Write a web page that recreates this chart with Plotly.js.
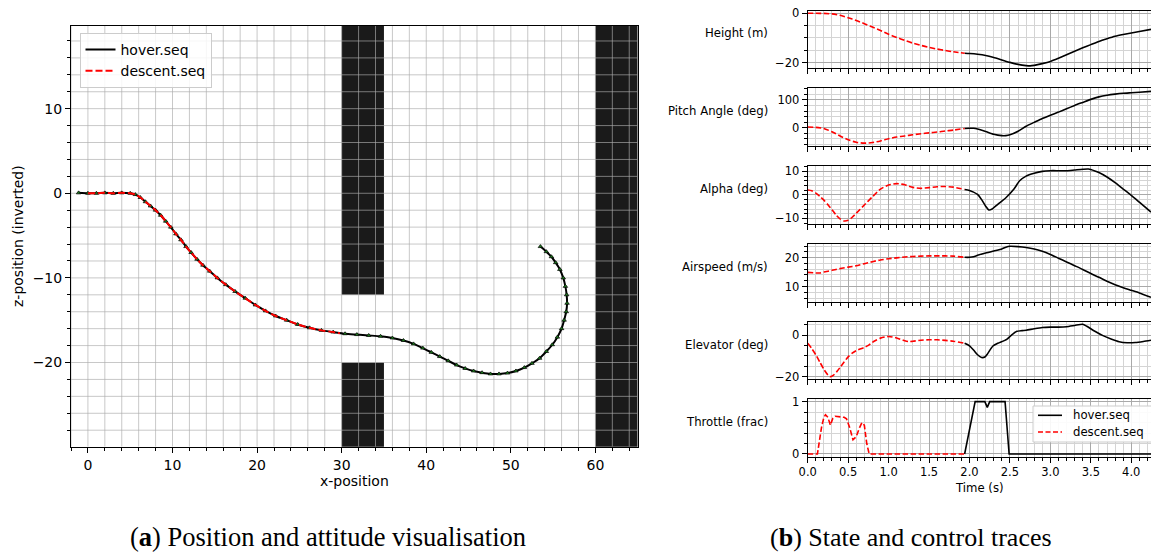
<!DOCTYPE html>
<html><head><meta charset="utf-8">
<script src="https://cdn.plot.ly/plotly-3.0.1.min.js"></script>
<style>html,body{margin:0;padding:0;background:#fff;} #chart{width:1151px;height:552px;}</style>
</head><body><div id="chart"></div>
<script>
// ---------- (a) trajectory ----------
const hoverX = [-1.1, 0, 1, 2, 3, 4, 5, 5.6, 6.2, 6.8, 7.4, 8.0, 8.6, 9.2, 9.8, 10.4, 11.0, 11.6, 12.2, 12.9, 13.6, 14.4, 15.3, 16.3, 17.4, 18.6, 19.8, 21.0, 22.2, 23.5, 24.8, 26.2, 27.6, 29.0, 30.4, 31.8, 33.2, 34.6, 36.0, 37.3, 38.5, 39.6, 40.6, 41.6, 42.6, 43.6, 44.6, 45.6, 46.6, 47.6, 48.6, 49.6, 50.6, 51.6, 52.5, 53.4, 54.2, 54.9, 55.5, 56.0, 56.3, 56.55, 56.65, 56.6, 56.45, 56.2, 55.8, 55.3, 54.8, 54.2, 53.5];
const hoverZ = [0.05, 0, 0, 0.05, 0, 0.05, 0, -0.15, -0.5, -1.0, -1.5, -2.0, -2.6, -3.3, -4.0, -4.8, -5.5, -6.3, -7.0, -7.8, -8.5, -9.2, -10.0, -10.8, -11.6, -12.4, -13.2, -13.9, -14.5, -15.0, -15.5, -15.9, -16.2, -16.4, -16.6, -16.7, -16.8, -16.9, -17.1, -17.4, -17.8, -18.3, -18.8, -19.3, -19.8, -20.3, -20.7, -21.0, -21.2, -21.35, -21.35, -21.25, -21.0, -20.6, -20.1, -19.5, -18.7, -17.9, -17.0, -16.0, -15.0, -14.0, -13.0, -12.0, -11.0, -10.0, -9.0, -8.2, -7.5, -6.9, -6.3];
const descentX = [0, 1, 2, 3, 4, 5, 5.6, 6.2, 6.8, 7.4, 8.0, 8.6, 9.2, 9.8, 10.4, 11.0, 11.6, 12.2, 12.9, 13.6, 14.4, 15.3, 16.3, 17.4, 18.6, 19.8, 21.0, 22.2, 23.5, 24.8, 26.2, 27.6, 29.0, 29.8];
const descentZ = [0, 0, 0.05, 0, 0.05, 0, -0.15, -0.5, -1.0, -1.5, -2.0, -2.6, -3.3, -4.0, -4.8, -5.5, -6.3, -7.0, -7.8, -8.5, -9.2, -10.0, -10.8, -11.6, -12.4, -13.2, -13.9, -14.5, -15.0, -15.5, -15.9, -16.2, -16.4, -16.55];
const obstacleX0 = [30, 30, 60];
const obstacleX1 = [35, 35, 65];
const obstacleZ0 = [-12, -30, -30];
const obstacleZ1 = [20, -20, 20];

// ---------- (b) state and control traces ----------
const panelLabels = ["Height (m)", "Pitch Angle (deg)", "Alpha (deg)", "Airspeed (m/s)", "Elevator (deg)", "Throttle (frac)"];

const heightDescT = [0, 0.1, 0.2, 0.3, 0.4, 0.5, 0.6, 0.7, 0.8, 0.9, 1.0, 1.1, 1.2, 1.3, 1.4, 1.5, 1.6, 1.7, 1.8, 1.94];
const heightDesc  = [0, 0, -0.05, -0.25, -0.8, -1.8, -2.9, -4.2, -5.6, -7.0, -8.5, -9.8, -11.0, -12.1, -13.0, -13.8, -14.5, -15.1, -15.6, -16.2];
const heightHovT  = [1.94, 2.0, 2.1, 2.2, 2.3, 2.4, 2.5, 2.6, 2.7, 2.75, 2.8, 2.9, 3.0, 3.1, 3.2, 3.3, 3.4, 3.5, 3.6, 3.7, 3.8, 3.9, 4.0, 4.1, 4.244];
const heightHov   = [-16.2, -16.3, -16.6, -17.1, -17.9, -18.9, -19.9, -20.7, -21.2, -21.3, -21.1, -20.4, -19.5, -18.2, -16.8, -15.4, -14.0, -12.7, -11.4, -10.3, -9.3, -8.6, -8.0, -7.4, -6.5];

const pitchDescT = [0, 0.1, 0.2, 0.3, 0.4, 0.5, 0.6, 0.7, 0.8, 0.9, 1.0, 1.1, 1.2, 1.3, 1.4, 1.5, 1.6, 1.7, 1.8, 1.94];
const pitchDesc  = [2, 1, -3, -15, -30, -44, -53, -56, -54, -48, -40, -34, -30, -26, -22, -19, -16, -12, -9, -3];
const pitchHovT  = [1.94, 2.0, 2.05, 2.1, 2.2, 2.3, 2.4, 2.45, 2.5, 2.6, 2.7, 2.8, 2.9, 3.0, 3.1, 3.2, 3.3, 3.4, 3.5, 3.6, 3.7, 3.8, 3.9, 4.0, 4.1, 4.244];
const pitchHov   = [-3, -2, -2.5, -5, -14, -24, -29, -29, -26, -13, 5, 19, 33, 45, 56, 68, 80, 91, 102, 111, 117, 121, 124, 126, 128, 131];

const alphaDescT = [0, 0.05, 0.1, 0.15, 0.2, 0.25, 0.3, 0.35, 0.4, 0.45, 0.5, 0.55, 0.6, 0.7, 0.8, 0.9, 1.0, 1.1, 1.2, 1.3, 1.4, 1.5, 1.6, 1.7, 1.8, 1.94];
const alphaDesc  = [2.1, 1.8, 0.8, -0.6, -2.2, -4.2, -6.3, -8.5, -10.2, -11.1, -10.8, -9.5, -7.8, -4.3, -0.8, 2.5, 4.2, 4.8, 4.3, 3.2, 2.8, 3.1, 3.5, 3.6, 3.3, 2.3];
const alphaHovT  = [1.94, 2.0, 2.05, 2.1, 2.15, 2.2, 2.24, 2.28, 2.35, 2.45, 2.55, 2.62, 2.7, 2.8, 2.9, 3.0, 3.1, 3.2, 3.3, 3.4, 3.47, 3.55, 3.6, 3.7, 3.8, 3.9, 4.0, 4.1, 4.244];
const alphaHov   = [2.3, 1.9, 1.2, 0.2, -2.0, -4.8, -6.4, -6.0, -4.0, -1.2, 2.5, 6.0, 8.0, 9.2, 10.0, 10.3, 10.3, 10.3, 10.6, 10.9, 11.0, 10.2, 9.5, 7.6, 5.2, 2.5, -0.2, -3.1, -7.3];

const airDescT = [0, 0.1, 0.15, 0.2, 0.3, 0.4, 0.5, 0.6, 0.7, 0.8, 0.9, 1.0, 1.1, 1.2, 1.3, 1.4, 1.5, 1.6, 1.7, 1.8, 1.94];
const airDesc  = [14.9, 14.7, 14.7, 15.0, 15.6, 16.2, 16.7, 17.2, 17.9, 18.6, 19.2, 19.6, 19.9, 20.2, 20.4, 20.5, 20.6, 20.6, 20.6, 20.5, 20.1];
const airHovT  = [1.94, 2.0, 2.05, 2.1, 2.2, 2.3, 2.4, 2.45, 2.5, 2.6, 2.7, 2.8, 2.9, 3.0, 3.1, 3.2, 3.3, 3.4, 3.5, 3.6, 3.7, 3.8, 3.9, 4.0, 4.1, 4.244];
const airHov   = [20.1, 20.1, 20.3, 20.8, 21.6, 22.3, 23.0, 23.6, 23.9, 23.8, 23.5, 23.0, 22.2, 21.1, 19.8, 18.5, 17.2, 15.9, 14.5, 13.2, 11.8, 10.6, 9.6, 8.7, 7.8, 6.3];

const elevDescT = [0, 0.05, 0.1, 0.15, 0.2, 0.25, 0.28, 0.32, 0.36, 0.4, 0.45, 0.5, 0.55, 0.6, 0.7, 0.75, 0.8, 0.85, 0.9, 1.0, 1.1, 1.2, 1.25, 1.3, 1.4, 1.5, 1.6, 1.7, 1.8, 1.94];
const elevDesc  = [-4, -6.5, -9.5, -13, -16.5, -19.2, -20, -19.3, -17.6, -15.6, -13, -10.5, -8.7, -7.5, -6, -5.0, -3.5, -2.4, -1.5, -0.7, -1.4, -2.8, -3.2, -3.0, -2.5, -2.3, -2.3, -2.6, -3.0, -4.0];
const elevHovT  = [1.94, 2.0, 2.05, 2.1, 2.15, 2.19, 2.22, 2.29, 2.35, 2.46, 2.52, 2.58, 2.65, 2.7, 2.8, 2.9, 3.0, 3.1, 3.2, 3.3, 3.4, 3.45, 3.55, 3.65, 3.75, 3.85, 3.95, 4.05, 4.15, 4.244];
const elevHov   = [-4, -5.2, -7.2, -9.5, -10.8, -10.6, -9.2, -5.3, -4.0, -2.1, 0, 1.7, 2.1, 2.3, 3.0, 3.6, 3.8, 3.8, 4.0, 4.6, 5.2, 4.2, 1.8, -0.3, -1.9, -3.2, -3.7, -3.6, -3.1, -2.5];

const thrDescT = [0, 0.12, 0.17, 0.2, 0.22, 0.25, 0.28, 0.31, 0.34, 0.4, 0.45, 0.48, 0.52, 0.56, 0.6, 0.64, 0.67, 0.7, 0.73, 0.76, 1.94];
const thrDesc  = [0, 0, 0.5, 0.7, 0.75, 0.7, 0.55, 0.68, 0.72, 0.71, 0.7, 0.67, 0.5, 0.27, 0.33, 0.5, 0.6, 0.55, 0.2, 0, 0];
const thrHovT  = [1.94, 1.96, 2.0, 2.07, 2.19, 2.22, 2.25, 2.44, 2.49, 4.244];
const thrHov   = [0, 0.15, 0.5, 1, 1, 0.89, 1, 1, 0, 0];

const panelRanges = [[-22.3, 1.05], [-66, 142], [-12.2, 12.3], [4.8, 24.7], [-21.3, 6.4], [-0.05, 1.05]];
const panelDticks = [20, 100, 10, 10, 20, 1];
const panelMinor  = [5, 20, 2, 2, 5, 0.2];

const seriesHover = [[heightHovT, heightHov], [pitchHovT, pitchHov], [alphaHovT, alphaHov], [airHovT, airHov], [elevHovT, elevHov], [thrHovT, thrHov]];
const seriesDesc  = [[heightDescT, heightDesc], [pitchDescT, pitchDesc], [alphaDescT, alphaDesc], [airDescT, airDesc], [elevDescT, elevDesc], [thrDescT, thrDesc]];
const seriesNames = ['hover.seq', 'descent.seq'];

// ---------- build ----------
const W = 1151, H = 552;
const FONT = "DejaVu Sans";
const traces = [];

const leftDomX = [71 / W, 637.7 / W], leftDomY = [1 - 446.7 / H, 1 - 26 / H];
const leftRangeX = [-2, 65], leftRangeY = [-29.95, 19.77];
const leftGridStep = 2;
const leftGrid = 'rgba(172,172,172,0.66)';

// obstacles
const obsX = [], obsY = [];
for (let k = 0; k < obstacleX0.length; k++) {
  obsX.push(obstacleX0[k], obstacleX1[k], obstacleX1[k], obstacleX0[k], obstacleX0[k], null);
  obsY.push(obstacleZ0[k], obstacleZ0[k], obstacleZ1[k], obstacleZ1[k], obstacleZ0[k], null);
}
traces.push({x: obsX, y: obsY, xaxis: 'x', yaxis: 'y', mode: 'lines', fill: 'toself', fillcolor: '#1a1a1a',
  line: {width: 0, color: '#1a1a1a'}, showlegend: false, hoverinfo: 'skip'});

// grid of the left axes, drawn above the obstacles (as in the original figure)
const gx = [], gy = [];
for (let v = Math.ceil(leftRangeX[0] / leftGridStep) * leftGridStep; v <= leftRangeX[1]; v += leftGridStep) {
  gx.push(v, v, null); gy.push(leftRangeY[0], leftRangeY[1], null);
}
for (let v = Math.ceil(leftRangeY[0] / leftGridStep) * leftGridStep; v <= leftRangeY[1]; v += leftGridStep) {
  gx.push(leftRangeX[0], leftRangeX[1], null); gy.push(v, v, null);
}
traces.push({x: gx, y: gy, xaxis: 'x', yaxis: 'y', mode: 'lines', line: {color: leftGrid, width: 1},
  showlegend: false, hoverinfo: 'skip', connectgaps: false});

// trajectory
traces.push({x: hoverX, y: hoverZ, xaxis: 'x', yaxis: 'y', mode: 'lines', name: seriesNames[0],
  line: {color: '#000', width: 2, shape: 'spline', smoothing: 0.6}, legend: 'legend', showlegend: true});
traces.push({x: hoverX, y: hoverZ, xaxis: 'x', yaxis: 'y', mode: 'markers', showlegend: false,
  marker: {symbol: 'triangle-up', size: 4, color: '#1f7a1f', line: {color: '#000', width: 0.7}}});
traces.push({x: descentX, y: descentZ, xaxis: 'x', yaxis: 'y', mode: 'lines', name: seriesNames[1],
  line: {color: '#ff0000', width: 2, dash: '7px,3px', shape: 'spline', smoothing: 0.6}, legend: 'legend', showlegend: true});

const rightTops = [10.7, 88.3, 166, 244, 321.7, 399];
const panelH = 57.6;
const layout = {
  width: W, height: H, margin: {l: 0, r: 0, t: 0, b: 0},
  paper_bgcolor: '#fff', plot_bgcolor: '#fff',
  font: {family: FONT, color: '#000', size: 14},
  showlegend: true,
  legend: {x: 79.5 / W, y: 1 - 33 / H, xanchor: 'left', yanchor: 'top', bgcolor: 'rgba(255,255,255,0.85)',
    bordercolor: '#cccccc', borderwidth: 1, font: {size: 14, family: FONT}, tracegroupgap: 0},
  shapes: [], annotations: []
};

layout.xaxis = {domain: leftDomX, range: leftRangeX, anchor: 'y', tick0: 0, dtick: 10,
  ticks: 'outside', ticklen: 5, tickwidth: 1, tickcolor: '#000', showline: true, linecolor: '#000', linewidth: 1, mirror: true,
  showgrid: false, zeroline: false, tickfont: {size: 14},
  minor: {dtick: leftGridStep, tick0: 0, ticks: 'outside', ticklen: 3, tickcolor: '#000', showgrid: false}};
layout.yaxis = {domain: leftDomY, range: leftRangeY, anchor: 'x', tick0: 0, dtick: 10,
  ticks: 'outside', ticklen: 5, tickwidth: 1, tickcolor: '#000', showline: true, linecolor: '#000', linewidth: 1, mirror: true,
  showgrid: false, zeroline: false, tickfont: {size: 14},
  minor: {dtick: leftGridStep, tick0: 0, ticks: 'outside', ticklen: 3, tickcolor: '#000', showgrid: false}};

const majGrid = '#a9a9a9', minGrid = '#d4d4d4';
for (let i = 0; i < 6; i++) {
  const n = i + 2;
  const xa = 'xaxis' + n, ya = 'yaxis' + n;
  const top = rightTops[i], bot = top + panelH;
  layout[xa] = {domain: [807.7 / W, 1], range: [0, 4.244], anchor: 'y' + n, tick0: 0, dtick: 0.5,
    ticks: 'outside', ticklen: 5, tickwidth: 1, tickcolor: '#000', showline: true, linecolor: '#000', linewidth: 1, mirror: true,
    showgrid: true, gridcolor: majGrid, gridwidth: 1, zeroline: false, showticklabels: i === 5, tickformat: '.1f',
    tickfont: {size: 11.5},
    minor: {dtick: 0.1, tick0: 0, ticks: 'outside', ticklen: 3, tickcolor: '#000', showgrid: true, gridcolor: minGrid, gridwidth: 1}};
  layout[ya] = {domain: [1 - bot / H, 1 - top / H], range: panelRanges[i], anchor: 'x' + n, tick0: 0, dtick: panelDticks[i],
    ticks: 'outside', ticklen: 5, tickwidth: 1, tickcolor: '#000', showline: true, linecolor: '#000', linewidth: 1,
    showgrid: true, gridcolor: majGrid, gridwidth: 1, zeroline: false, tickfont: {size: 11.5},
    minor: {dtick: panelMinor[i], tick0: 0, ticks: 'outside', ticklen: 3, tickcolor: '#000', showgrid: true, gridcolor: minGrid, gridwidth: 1}};
  const sh = i === 5 ? 'linear' : 'spline';
  traces.push({x: seriesHover[i][0], y: seriesHover[i][1], xaxis: 'x' + n, yaxis: 'y' + n, mode: 'lines', name: seriesNames[0],
    line: {color: '#000', width: 1.6, shape: sh, smoothing: 0.6}, showlegend: false});
  traces.push({x: seriesDesc[i][0], y: seriesDesc[i][1], xaxis: 'x' + n, yaxis: 'y' + n, mode: 'lines', name: seriesNames[1],
    line: {color: '#ff0000', width: 1.6, dash: '5.5px,2.5px', shape: sh, smoothing: 0.6}, showlegend: false});
  layout.annotations.push({text: panelLabels[i], xref: 'paper', yref: 'paper', x: 770 / W, y: 1 - (top + panelH / 2 - 6) / H,
    xanchor: 'right', yanchor: 'middle', showarrow: false, font: {size: 11.7, family: FONT}});
}

// compact legend inside the throttle panel
const lg = {x0: 1033, x1: 1156, y0: 406, y1: 442};
layout.shapes.push({type: 'rect', xref: 'paper', yref: 'paper', x0: lg.x0 / W, x1: lg.x1 / W, y0: 1 - lg.y1 / H, y1: 1 - lg.y0 / H,
  fillcolor: 'rgba(255,255,255,0.9)', line: {color: '#cccccc', width: 1}, layer: 'above'});
const legRows = [415.3, 432];
const legStyles = [{color: '#000', width: 1.6, dash: 'solid'}, {color: '#ff0000', width: 1.6, dash: '5px,2.5px'}];
for (let r = 0; r < 2; r++) {
  layout.shapes.push({type: 'line', xref: 'paper', yref: 'paper', x0: 1038 / W, x1: 1062 / W, y0: 1 - legRows[r] / H, y1: 1 - legRows[r] / H,
    line: legStyles[r], layer: 'above'});
  layout.annotations.push({text: seriesNames[r], xref: 'paper', yref: 'paper', x: 1071 / W, y: 1 - legRows[r] / H,
    xanchor: 'left', yanchor: 'middle', showarrow: false, font: {size: 11.7, family: FONT}});
}

// axis titles and captions
layout.annotations.push({text: 'x-position', xref: 'paper', yref: 'paper', x: 354 / W, y: 1 - 481 / H, xanchor: 'center', yanchor: 'middle', showarrow: false, font: {size: 14}});
layout.annotations.push({text: 'z-position (inverted)', xref: 'paper', yref: 'paper', x: 18 / W, y: 1 - 236 / H, xanchor: 'center', yanchor: 'middle', textangle: -90, showarrow: false, font: {size: 14}});
layout.annotations.push({text: 'Time (s)', xref: 'paper', yref: 'paper', x: 979 / W, y: 1 - 488 / H, xanchor: 'center', yanchor: 'middle', showarrow: false, font: {size: 11.7}});
layout.annotations.push({text: '(<b>a</b>) Position and attitude visualisation', xref: 'paper', yref: 'paper', x: 328 / W, y: 1 - 537 / H, xanchor: 'center', yanchor: 'middle', showarrow: false, font: {size: 26.5, family: 'Liberation Serif'}});
layout.annotations.push({text: '(<b>b</b>) State and control traces', xref: 'paper', yref: 'paper', x: 911 / W, y: 1 - 537 / H, xanchor: 'center', yanchor: 'middle', showarrow: false, font: {size: 26, family: 'Liberation Serif'}});

Plotly.newPlot('chart', traces, layout, {staticPlot: true, displayModeBar: false});
</script></body></html>
